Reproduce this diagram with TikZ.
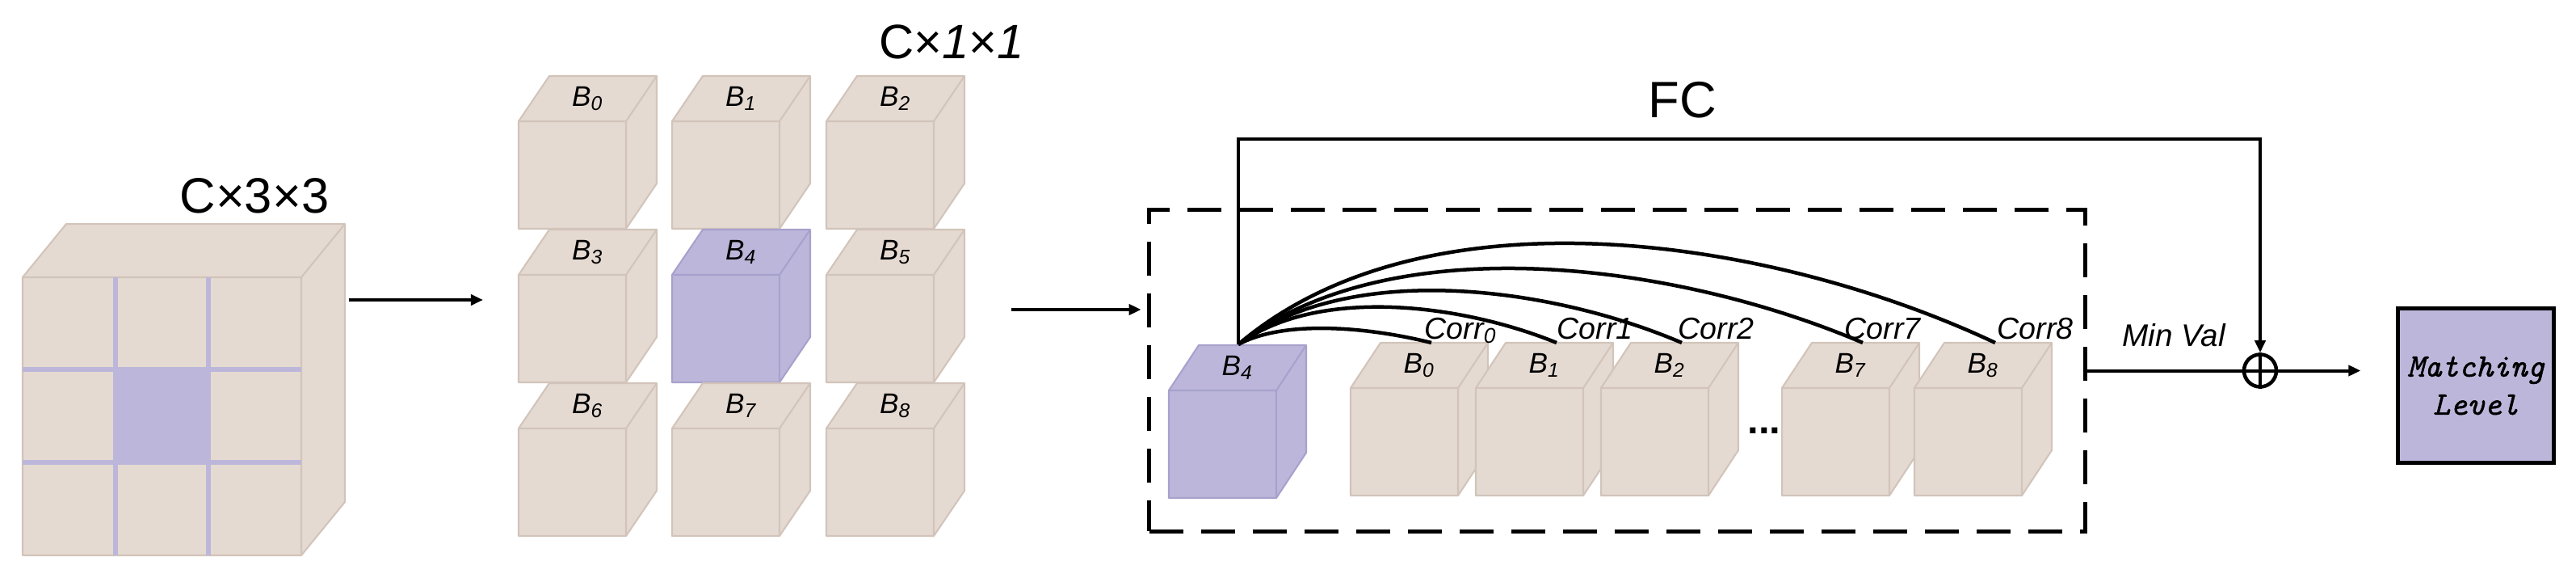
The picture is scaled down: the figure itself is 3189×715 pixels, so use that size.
\documentclass[tikz,border=0pt]{standalone}
\usepackage{fontspec}
\setmainfont{Liberation Sans}
\newfontfamily\mlfont{Latin Modern Mono}[FakeBold=1.2]
\usetikzlibrary{arrows.meta}
\definecolor{beige}{HTML}{E5DAD2}
\definecolor{beigeedge}{HTML}{D2C4BA}
\definecolor{lav}{HTML}{BCB7DA}
\definecolor{lavedge}{HTML}{A7A1CC}
% #1 x, #2 y (front top-left), #3 w, #4 h, #5 dx, #6 dy, #7 fill, #8 edge
\newcommand\drawcube[8]{%
  \filldraw[fill=#7,draw=#8,line width=0.6pt,line join=round]
    (#1,#2) -- ++(#5,-#6) -- ++(#3,0) -- ++(0,#4) -- ++(-#5,#6) -- ++(-#3,0) -- cycle;
  \draw[#8,line width=0.6pt,line join=round] (#1,#2) -- ++(#3,0) -- ++(#5,-#6) ++(-#5,#6) -- ++(0,#4);
}
\tikzset{
  cubelabel/.style={font=\fontsize{10}{12}\selectfont\itshape, inner sep=0},
  corrlabel/.style={font=\fontsize{10.7}{12}\selectfont\itshape, inner sep=0, anchor=base west},
  bigtitle/.style={font=\fontsize{17.5}{21}\selectfont, inner sep=0, anchor=base},
  conn/.style={line width=0.04cm},
  arr/.style={conn, -{Triangle[length=0.15cm,width=0.13cm]}},
  corrcurve/.style={line width=0.045cm},
  dashbox/.style={draw, line width=0.05cm, dash pattern=on 0.42cm off 0.22cm, inner sep=0, outer sep=0},
}
\begin{document}
\begin{tikzpicture}[x=0.01cm,y=-0.01cm]
\useasboundingbox (0,0) rectangle (3189,715);

% ---------- left cube C x 3 x 3 ----------
\drawcube{28}{343}{345}{344}{54}{66}{beige}{beigeedge}
\fill[lav] (143,457) rectangle (258,572);
\draw[lav,line width=0.052cm] (143,343) -- (143,687) (258,343) -- (258,687)
  (28,457) -- (373,457) (28,572) -- (373,572);
\node[bigtitle] (l33) at (315,263) {C×3×3};
\coordinate (a1s) at (432,371);
\coordinate (a1e) at (598,371);
\draw[arr] (a1s) -- (a1e);

% ---------- grid of 9 cubes ----------
\foreach \r/\y in {0/150,1/340,2/530}{
  \foreach \c/\x in {0/642,1/832,2/1023}{
    \pgfmathtruncatemacro{\idx}{3*\r+\c}
    \ifnum\idx=4
      \drawcube{\x}{\y}{133}{133}{38}{56}{lav}{lavedge}
    \else
      \drawcube{\x}{\y}{133}{133}{38}{56}{beige}{beigeedge}
    \fi
    \node[cubelabel] (g\idx) at (\x+85.5,\y-28) {B\textsubscript{\idx}};
  }
}
\node[bigtitle, font=\fontsize{17}{21}\selectfont] (l11) at (1178,73) {C×\textit{1}×\textit{1}};
\coordinate (a2s) at (1252,383);

% ---------- dashed box ----------
\node[dashbox, minimum width=11.58cm, minimum height=3.97cm] (box) at (2002,458.5) {};
\draw[arr, shorten >=0.1cm] (a2s) -- (a2s -| box.west);

% row of cubes
\drawcube{1447}{483}{133}{133}{37}{56}{lav}{lavedge}
\node[cubelabel] (r4) at (1447+85,483-28) {B\textsubscript{4}};
\foreach \n/\x in {0/1672,1/1827,2/1982,7/2206,8/2370}{
  \drawcube{\x}{480}{133}{133}{37}{56}{beige}{beigeedge}
  \node[cubelabel] (r\n) at (\x+85,480-28) {B\textsubscript{\n}};
  \coordinate (e\n) at (\x+100,424);
}
\node[font=\fontsize{14}{14}\selectfont\bfseries, inner sep=0, anchor=base] (dots) at (2184,536) {...};

% correlation curves
\coordinate (o) at (1533,426);
\draw[corrcurve] (o) .. controls +(60,-32) and +(-72,-18) .. (e0);
\draw[corrcurve] (o) .. controls +(99,-72) and +(-118,-48) .. (e1);
\draw[corrcurve] (o) .. controls +(137,-104) and +(-164,-70) .. (e2);
\draw[corrcurve] (o) .. controls +(191,-148) and +(-229,-98) .. (e7);
\draw[corrcurve] (o) .. controls +(232,-197) and +(-279,-131) .. (e8);
\node[corrlabel] (c0) at (1763,419) {Corr\textsubscript{0}};
\node[corrlabel] (c1) at (1927,419) {Corr1};
\node[corrlabel] (c2) at (2077,419) {Corr2};
\node[corrlabel] (c7) at (2283,419) {Corr7};
\node[corrlabel] (c8) at (2472,419) {Corr8};

% ---------- FC and output ----------
\node[draw, circle, line width=0.045cm, minimum size=0.4cm, inner sep=0] (sum) at (2798,458.5) {};
\draw[line width=0.04cm] (sum.north) -- (sum.south) (sum.west) -- (sum.east);
\coordinate (top) at (1533,172);
\draw[arr] (o) -- (top) -| (sum.north);
\node[bigtitle, font=\fontsize{18}{21}\selectfont] (fc) at (2083,146) {FC};
\draw[conn] (box.east) -- (sum.west);
\node[font=\fontsize{11}{13}\selectfont\itshape, inner sep=0, anchor=base] (mv) at (2691,428) {Min Val};
\node[draw, fill=lav, line width=0.05cm, minimum width=1.92cm, minimum height=1.90cm, inner sep=0,
      align=center, font=\fontsize{11.5}{13.4}\selectfont\mlfont\itshape] (ml) at (3065,477) {Matching\\Level};
\draw[arr, shorten >=0.44cm] (sum.east) -- (sum.east -| ml.west);
\end{tikzpicture}
\end{document}
